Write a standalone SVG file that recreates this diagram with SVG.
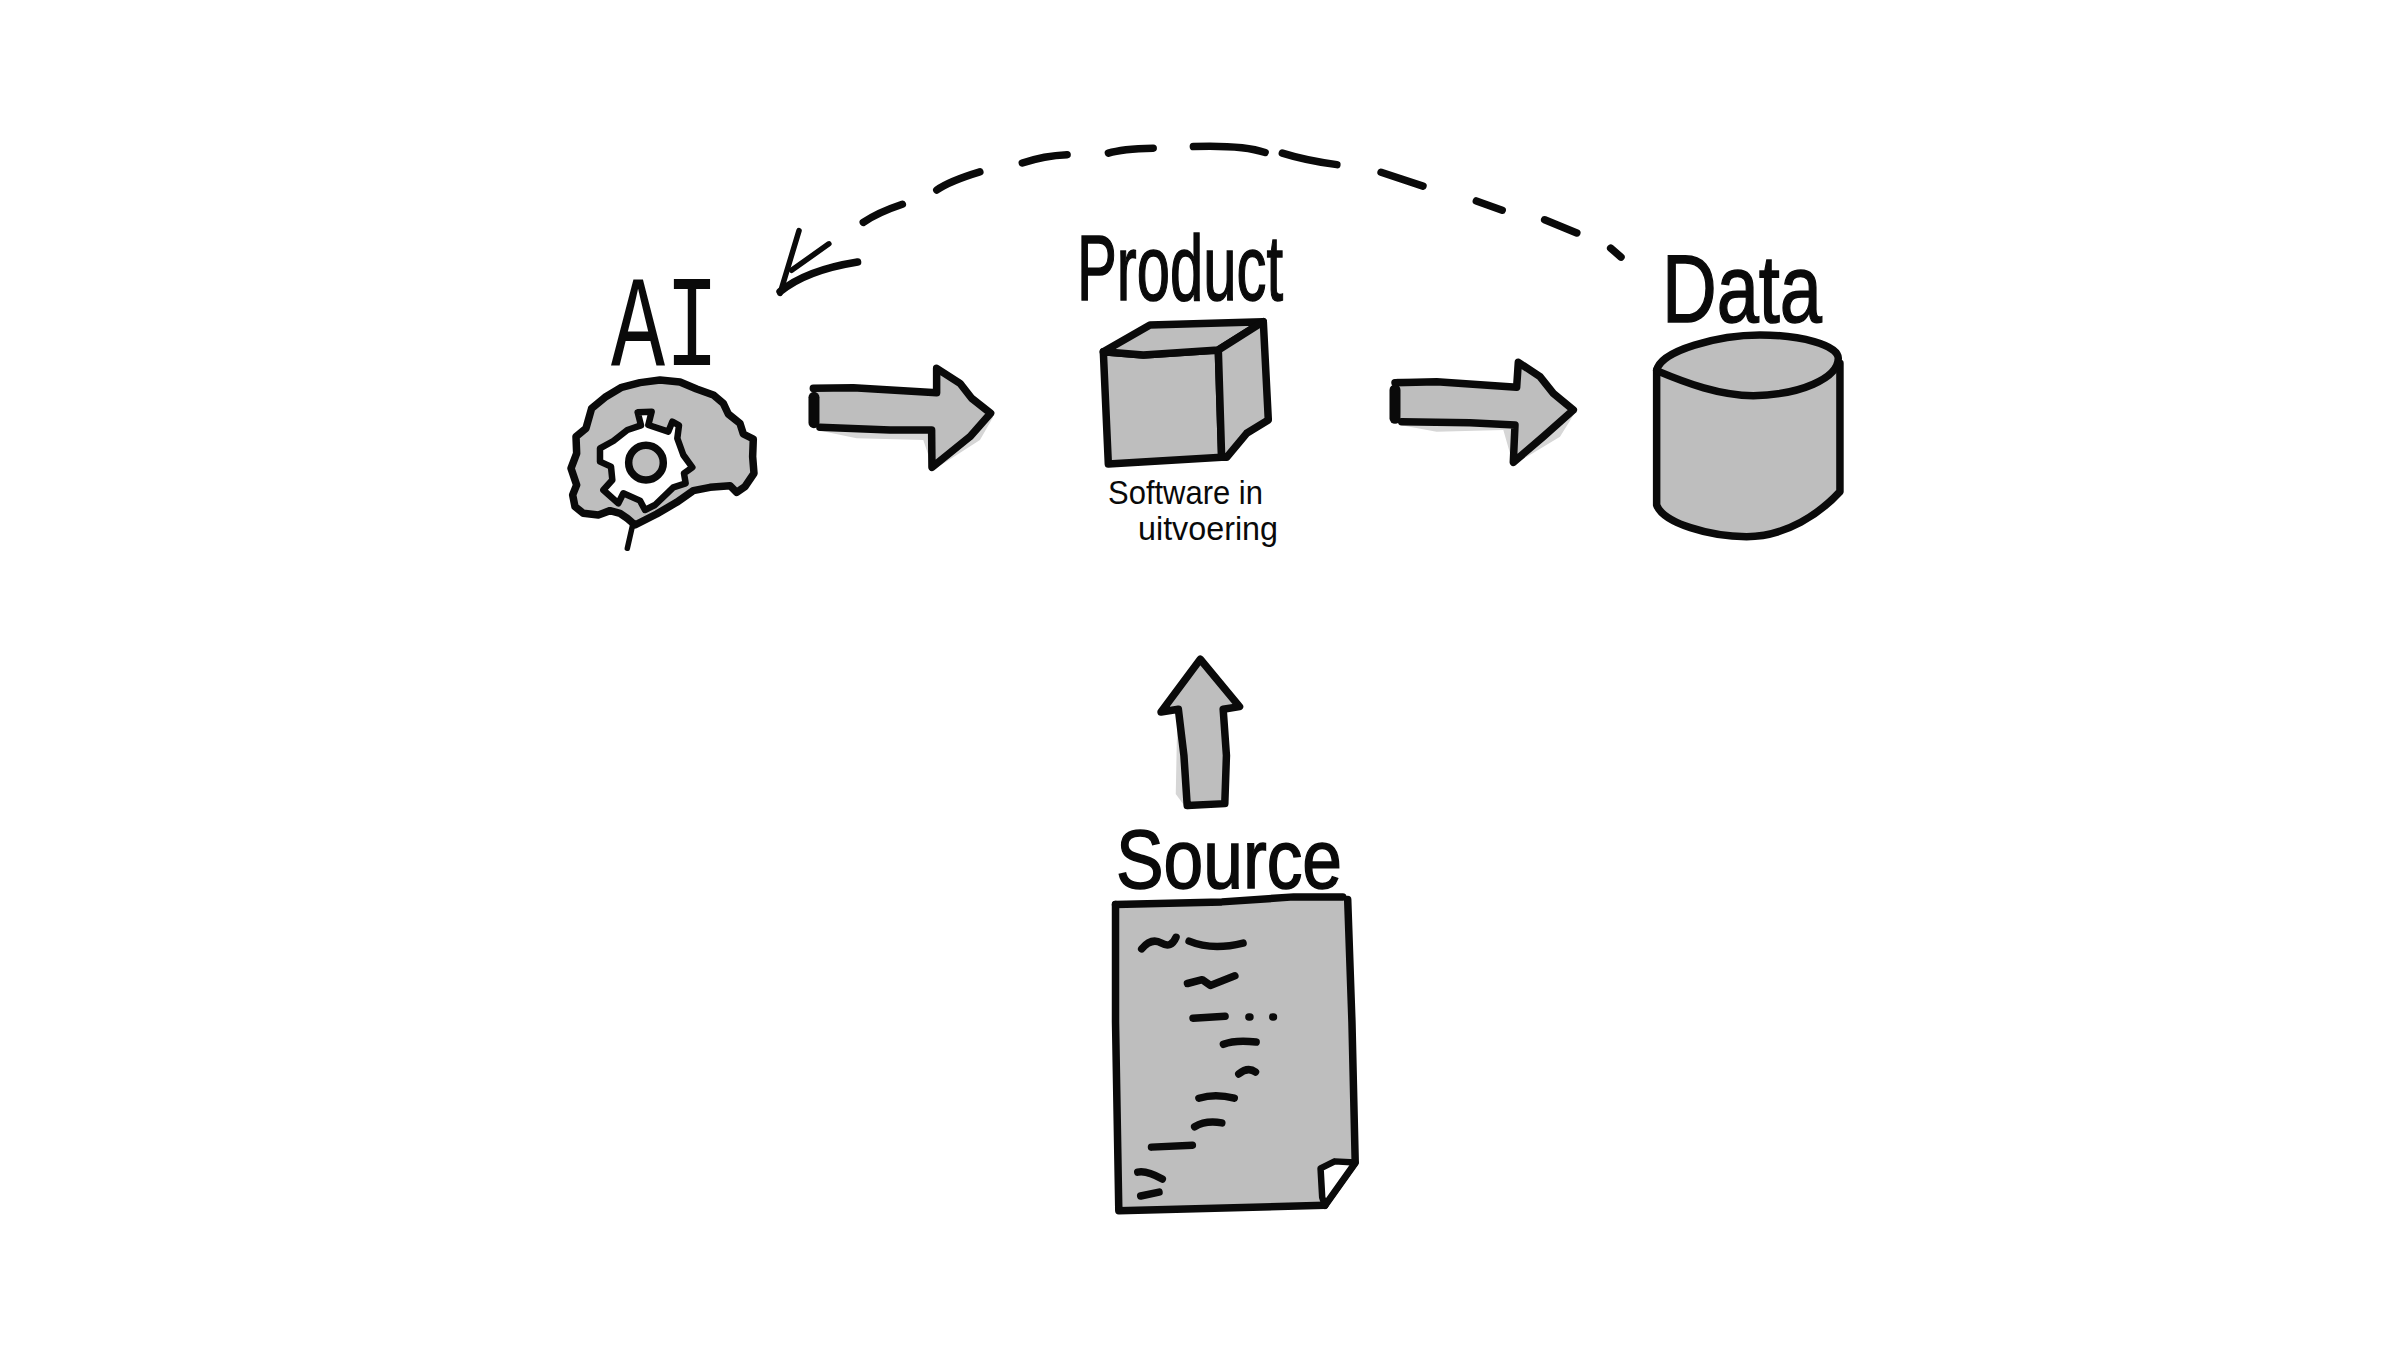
<svg xmlns="http://www.w3.org/2000/svg" width="2397" height="1348" viewBox="0 0 2397 1348">
<style>
.ink{fill:none;stroke:#0a0a0a;stroke-width:7.5;stroke-linecap:round;stroke-linejoin:round;vector-effect:non-scaling-stroke}
.fill{fill:#bebebe;stroke:#0a0a0a;stroke-width:7.5;stroke-linecap:round;stroke-linejoin:round;vector-effect:non-scaling-stroke}
.flat{fill:#bebebe;stroke:none}
.halo{fill:#d6d6d6;stroke:none}
.white{fill:#fff;stroke:#0a0a0a;stroke-width:6.5;stroke-linecap:round;stroke-linejoin:round;vector-effect:non-scaling-stroke}
.thin{stroke-width:5.5}
.fat{stroke-width:11}
.dash{stroke-width:7.5}
.label{font-family:"Liberation Sans",Arial,sans-serif;fill:#0a0a0a;stroke:#0a0a0a;stroke-width:1.5}
.small{font-family:"Liberation Sans",Arial,sans-serif;fill:#0a0a0a}
.mono{font-family:"Liberation Mono",monospace;fill:#0a0a0a}
</style>
<rect width="2397" height="1348" fill="#fff"/>

<g id="connectors">
  <g id="arrow-data-ai" transform="translate(760 130) scale(.574 .33)">
    <path class="ink dash" d="M180,280 Q205,250 248,225"/>
    <path class="ink dash" d="M308,182 Q330,155 383,127"/>
    <path class="ink dash" d="M457,100 Q495,78 535,75"/>
    <path class="ink dash" d="M607,70 Q630,57 685,55"/>
    <path class="ink dash" d="M755,50 Q840,45 880,68"/>
    <path class="ink dash" d="M910,70 Q950,92 1005,105"/>
    <path class="ink dash" d="M1082,128 L1155,170"/>
    <path class="ink dash" d="M1248,215 L1293,243"/>
    <path class="ink dash" d="M1367,272 L1423,312"/>
    <path class="ink dash" d="M1482,358 L1500,385"/>
    <path class="ink thin" d="M68,305 L35,495"/>
    <path class="ink thin" d="M55,425 L120,345"/>
    <path class="ink" d="M35,490 Q80,425 170,400"/>
  </g>
  <g id="arrow-ai-product" transform="translate(540 240) scale(.3333)">
    <path class="halo" d="M830,435 L1190,450 L1190,385 L1360,530 L1320,600 L1180,690 L1150,600 L950,595 L830,570 Z"/>
    <path class="flat" d="M820,445 L1190,458 L1190,385 L1260,430 L1350,520 L1290,590 L1180,680 L1175,570 L840,562 Z"/>
    <path class="ink" d="M820,445 L940,443 L1190,458 L1190,385 L1260,430 L1295,475 L1352,520 L1290,590 L1176,682 L1175,570 L1050,570 L840,562"/>
    <path class="ink fat" d="M822,472 L822,548"/>
  </g>
  <g id="arrow-product-data" transform="translate(1370 230) scale(.3333)">
    <path class="halo" d="M80,445 L440,465 L445,400 L620,540 L570,620 L430,705 L400,600 L200,605 L90,585 Z"/>
    <path class="flat" d="M75,458 L440,472 L445,400 L510,440 L610,540 L520,620 L430,695 L435,585 L95,575 Z"/>
    <path class="ink" d="M75,458 L200,455 L440,472 L445,397 L510,440 L550,490 L610,540 L520,620 L430,697 L435,585 L300,578 L95,575"/>
    <path class="ink fat" d="M75,480 L75,565"/>
  </g>
  <g id="arrow-source-product" transform="translate(1094 640) scale(.327 .385)">
    <path class="halo" d="M325,50 L445,175 L395,180 L405,425 L285,440 L250,400 L255,190 L205,185 Z"/>
    <path class="fill" d="M325,50 L445,173 L395,180 L405,300 L400,425 L285,430 L275,300 L258,180 L205,187 Z"/>
  </g>
</g>

<g id="node-ai">
  <text class="mono" x="611" y="365" font-size="130" textLength="108" lengthAdjust="spacingAndGlyphs">AI</text>
  <g transform="translate(540 240) scale(.3333)">
    <path class="ink thin" d="M278,855 L262,925"/>
    <path class="fill" d="M285,855 L262,835 L240,820 L210,812 L175,825 L130,820 L105,800 L98,765 L110,735 L93,685 L110,640 L108,590 L138,565 L155,505 L195,472 L245,442 L300,428 L360,420 L420,426 L470,447 L520,465 L550,490 L565,522 L600,550 L610,582 L640,597 L638,650 L642,700 L615,740 L590,757 L570,737 L510,742 L460,752 L410,787 L350,822 Z"/>
    <path class="white" d="M293,517 L335,515 L325,555 L385,575 L397,545 L417,556 L412,595 L430,645 L457,682 L432,700 L437,730 L400,742 L345,795 L315,810 L300,782 L250,760 L235,790 L190,750 L217,720 L213,680 L180,665 L180,625 L220,603 L262,570 L303,556 Z"/>
    <circle class="fill" cx="318" cy="668" r="52"/>
  </g>
</g>

<g id="node-product">
  <text class="label" x="1077" y="300" font-size="92" textLength="206" lengthAdjust="spacingAndGlyphs">Product</text>
  <g transform="translate(1040 210) scale(.3333)">
    <path class="fill" d="M190,425 L310,435 L535,420 L545,742 L205,762 Z"/>
    <path class="fill" d="M190,425 L330,345 L670,335 L535,420 L310,435 Z"/>
    <path class="fill" d="M670,335 L685,630 L620,670 L560,742 L545,742 L535,420 Z"/>
  </g>
  <text class="small" x="1108" y="504" font-size="33" textLength="155" lengthAdjust="spacingAndGlyphs">Software in</text>
  <text class="small" x="1138" y="540" font-size="33" textLength="140" lengthAdjust="spacingAndGlyphs">uitvoering</text>
</g>

<g id="node-data">
  <text class="label" x="1662" y="322" font-size="97" textLength="160" lengthAdjust="spacingAndGlyphs">Data</text>
  <g transform="translate(1370 230) scale(.3333)">
    <path class="fill" d="M860,420 L860,825 C880,880 1020,920 1130,920 C1250,920 1350,850 1410,785 L1410,400 Z"/>
    <path class="fill" d="M860,422 C870,360 1050,315 1170,315 C1290,315 1405,345 1405,385 C1405,445 1290,495 1150,497 C1050,497 950,460 860,422 Z"/>
  </g>
</g>

<g id="node-source">
  <text class="label" x="1116" y="888" font-size="84" textLength="226" lengthAdjust="spacingAndGlyphs">Source</text>
  <g transform="translate(1091 637) scale(.327 .385)">
    <path class="flat" d="M75,695 L785,678 L808,1365 L715,1476 L85,1490 Z"/>
    <path class="ink" d="M75,695 L400,688 L620,675 L770,675"/>
    <path class="ink" d="M75,695 L75,1000 L85,1490 L715,1476"/>
    <path class="ink" d="M785,682 L798,1000 L808,1365 L715,1476"/>
    <path class="white" d="M808,1365 L745,1362 L702,1380 L707,1455 L715,1476 Z"/>
    <path class="ink" d="M155,810 Q185,780 215,795 T260,780"/>
    <path class="ink" d="M300,790 Q370,815 465,795"/>
    <path class="ink" d="M295,900 L340,890 L365,905 L440,880"/>
    <path class="ink" d="M312,990 L410,985"/>
    <path class="ink" d="M483,987 L486,987"/>
    <path class="ink" d="M556,987 L558,987"/>
    <path class="ink" d="M405,1058 Q440,1046 505,1052"/>
    <path class="ink" d="M452,1135 Q480,1115 503,1130"/>
    <path class="ink" d="M330,1198 Q380,1185 438,1198"/>
    <path class="ink" d="M317,1272 Q350,1255 400,1262"/>
    <path class="ink" d="M185,1325 L310,1320"/>
    <path class="ink" d="M143,1390 Q170,1385 218,1408"/>
    <path class="ink" d="M152,1452 L208,1442"/>
  </g>
</g>
</svg>
